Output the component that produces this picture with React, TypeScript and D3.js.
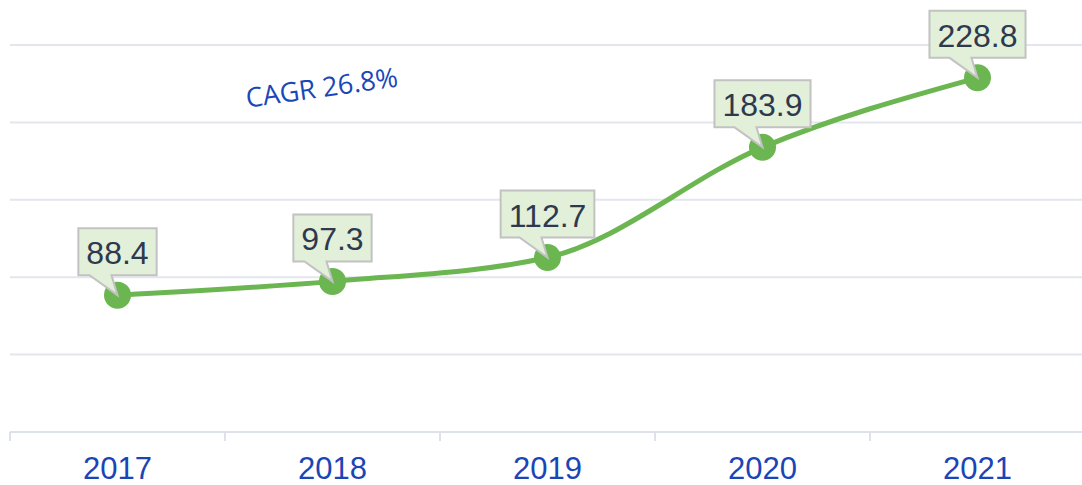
import React, { useRef, useEffect } from 'react';
import * as d3 from 'd3';

// chart data
const years = ['2017', '2018', '2019', '2020', '2021'];
const marketValues = [88.4, 97.3, 112.7, 183.9, 228.8];
const yTicks = [0, 50, 100, 150, 200, 250];
const cagrLabel = 'CAGR 26.8%';

const WIDTH = 1082;
const HEIGHT = 485;

const App = () => {
  const svgRef = useRef<SVGSVGElement | null>(null);

  useEffect(() => {
    const svg = d3.select(svgRef.current);
    svg.selectAll('*').remove();

    // scales
    const x = d3.scaleBand<string>().domain(years).range([10, 1085]);
    const y = d3.scaleLinear().domain([0, 250]).range([432, 45]);
    const cx = (d: string) => (x(d) as number) + x.bandwidth() / 2;

    // horizontal gridlines
    svg.append('g')
      .selectAll('line')
      .data(yTicks.filter(t => t > 0))
      .enter()
      .append('line')
      .attr('x1', 10)
      .attr('x2', WIDTH)
      .attr('y1', d => y(d))
      .attr('y2', d => y(d))
      .attr('stroke', '#e3e6ee')
      .attr('stroke-width', 2);

    // x axis
    const xAxis = svg.append('g')
      .attr('transform', `translate(0, ${y(0)})`)
      .call(d3.axisBottom(x).tickSize(0).tickPadding(41));
    xAxis.select('.domain').remove();
    xAxis.append('line')
      .attr('x1', 10)
      .attr('x2', WIDTH)
      .attr('stroke', '#dde1ea')
      .attr('stroke-width', 2);
    const bounds = years.map(d => x(d) as number).concat([x.range()[1]]);
    xAxis.selectAll('.tick-mark')
      .data(bounds)
      .enter()
      .append('line')
      .attr('class', 'tick-mark')
      .attr('x1', d => d)
      .attr('x2', d => d)
      .attr('y1', 0)
      .attr('y2', 9)
      .attr('stroke', '#dde1ea')
      .attr('stroke-width', 2);
    xAxis.selectAll('.tick text')
      .attr('font-family', '"Liberation Sans", Arial, sans-serif')
      .attr('font-size', 31)
      .attr('fill', '#1b45b6')
      .attr('dy', '0.2em');

    // CAGR annotation
    svg.append('text')
      .attr('transform', 'translate(323, 97) rotate(-8)')
      .attr('text-anchor', 'middle')
      .attr('font-family', '"Open Sans", sans-serif')
      .attr('font-size', 27)
      .attr('fill', '#1a47b8')
      .text(cagrLabel);

    // line
    const line = d3.line<number>()
      .x((_, i) => cx(years[i]))
      .y(d => y(d))
      .curve(d3.curveMonotoneX);

    svg.append('path')
      .datum(marketValues)
      .attr('d', line)
      .attr('fill', 'none')
      .attr('stroke', '#6cb651')
      .attr('stroke-width', 5);

    svg.append('g')
      .selectAll('circle')
      .data(marketValues)
      .enter()
      .append('circle')
      .attr('cx', (_, i) => cx(years[i]))
      .attr('cy', d => y(d))
      .attr('r', 13.5)
      .attr('fill', '#6cb651');

    // callout labels
    const labels = svg.append('g')
      .selectAll('g')
      .data(marketValues)
      .enter()
      .append('g')
      .attr('transform', (d, i) => `translate(${cx(years[i])}, ${y(d)})`);

    const shape = labels.append('path')
      .attr('fill', '#e2efd9')
      .attr('stroke', '#c2c2c2')
      .attr('stroke-width', 2);

    const txt = labels.append('text')
      .attr('text-anchor', 'middle')
      .attr('font-family', '"Liberation Sans", Arial, sans-serif')
      .attr('font-size', 32)
      .attr('fill', '#2e394d')
      .attr('y', -31)
      .text(d => d.toFixed(1));

    txt.each(function (_, i) {
      const w = (this as SVGTextElement).getComputedTextLength() + 16;
      const l = -w / 2, r = w / 2, top = -67, bot = -20;
      const p = `M${l},${top}H${r}V${bot}H-6L0,0L-28,${bot}H${l}Z`;
      d3.select(shape.nodes()[i]).attr('d', p);
    });

    return () => {
      svg.selectAll('*').remove();
    };
  }, []);

  return (
    <svg
      ref={svgRef}
      width={WIDTH}
      height={HEIGHT}
      style={{ position: 'absolute', left: 0, top: 0, background: '#fff' }}
    />
  );
};

export default App;
